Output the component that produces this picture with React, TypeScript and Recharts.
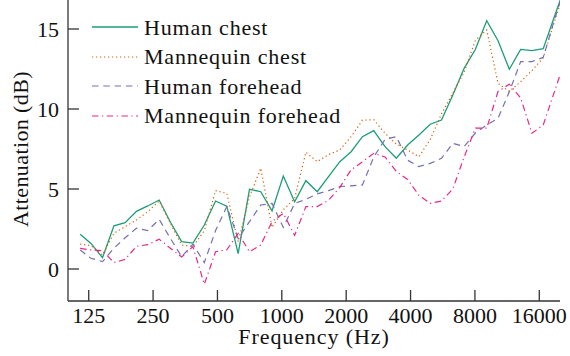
import { LineChart, Line, XAxis, YAxis, Legend, Label } from "recharts";

// band centre frequencies (Hz)
const frequencies = [
  114, 128, 145, 164, 185, 209, 236, 267, 301, 340, 384, 434, 490, 553, 625,
  706, 797, 900, 1016, 1148, 1296, 1464, 1654, 1868, 2109, 2382, 2691, 3039,
  3432, 3876, 4378, 4944, 5584, 6307, 7123, 8045, 9086, 10262, 11590, 13090,
  14784, 16697, 18858, 21298
];

// attenuation in dB
const humanChest = [
  2.17, 1.6, 0.71, 2.7, 2.9, 3.6, 3.94, 4.31, 2.94, 1.71, 1.62, 2.75, 4.25,
  3.93, 0.96, 4.98, 4.83, 3.63, 5.81, 4.2, 5.52, 4.83, 5.77, 6.71, 7.33, 8.27,
  8.65, 7.65, 6.92, 7.75, 8.38, 9.05, 9.31, 10.88, 12.54, 13.73, 15.52, 14.27,
  12.48, 13.73, 13.65, 13.77, 15.8, 17.8
];
const mannequinChest = [
  1.56, 1.46, 0.88, 2.23, 2.65, 3.06, 3.58, 4.25, 2.85, 1.5, 1.4, 2.4, 4.9,
  4.73, 1.7, 4.5, 6.3, 2.6, 3.7, 4.4, 7.3, 6.71, 7.15, 7.44, 8.27, 9.3, 9.33,
  8.48, 7.8, 7.44, 7.02, 8.1, 9.7, 11.0, 12.3, 14.3, 14.94, 11.6, 11.1, 11.7,
  12.4, 13.2, 15.5, 17.6
];
const humanForehead = [
  1.19, 0.67, 0.46, 1.3, 1.95, 2.55, 2.4, 3.1, 1.92, 0.77, 1.55, 0.4, 2.4, 3.9,
  1.9, 2.96, 4.0, 4.1, 2.6, 4.1, 4.35, 4.7, 4.9, 5.15, 5.2, 5.25, 7.0, 8.1,
  8.27, 6.8, 6.4, 6.6, 6.92, 7.85, 7.65, 8.5, 9.0, 9.42, 11.08, 12.96, 12.96,
  13.23, 15.6, 17.8
];
const mannequinForehead = [
  1.29, 1.19, 1.15, 0.4, 0.6, 1.42, 1.52, 1.86, 1.3, 0.75, 1.4, -0.95, 1.08,
  1.2, 2.23, 1.08, 1.5, 2.96, 3.48, 2.1, 3.9, 3.9, 4.3, 5.1, 6.2, 6.7, 7.23,
  7.0, 6.1, 5.6, 4.6, 4.1, 4.25, 5.0, 7.0, 8.8, 8.8, 11.1, 11.55, 10.7, 8.48,
  9.0, 11.1, 13.2
];

const xTicks = [125, 250, 500, 1000, 2000, 4000, 8000, 16000];
const yTicks = [0, 5, 10, 15];

const data = frequencies.map((f, i) => ({
  f,
  humanChest: humanChest[i],
  mannequinChest: mannequinChest[i],
  humanForehead: humanForehead[i],
  mannequinForehead: mannequinForehead[i]
}));

const series = [
  { key: "humanChest", name: "Human chest", color: "#1b9e77", dash: undefined, width: 1.3 },
  { key: "mannequinChest", name: "Mannequin chest", color: "#d95f02", dash: "1.2 2.8", width: 1.2 },
  { key: "humanForehead", name: "Human forehead", color: "#7570b3", dash: "6.5 4.8", width: 1.2 },
  { key: "mannequinForehead", name: "Mannequin forehead", color: "#e7298a", dash: "6.5 3.5 1.2 3.5", width: 1.2 }
];

const font = "'Liberation Serif', 'Times New Roman', serif";
const ink = "#111";
const axisColor = "#333";
const tickStyle = { fill: ink, fontSize: 22, fontFamily: font };
const titleStyle = { fill: ink, fontSize: 22, fontFamily: font, letterSpacing: 0.9 };

function LegendBox() {
  return (
    <div style={{ fontFamily: font, fontSize: 22, color: ink, letterSpacing: 0.8 }}>
      {series.map((s) => (
        <div
          key={s.key}
          style={{ display: "flex", alignItems: "center", height: 29.5 }}
        >
          <svg width={46} height={10}>
            <line
              x1={0}
              y1={5}
              x2={46}
              y2={5}
              stroke={s.color}
              strokeWidth={s.width}
              strokeDasharray={s.dash}
            />
          </svg>
          <span style={{ marginLeft: 6, lineHeight: "29.5px", whiteSpace: "nowrap" }}>
            {s.name}
          </span>
        </div>
      ))}
    </div>
  );
}

// rotated y title, centred on the plot height (chart coords: plot spans 10..314)
function YTitle() {
  const cx = 28;
  const cy = 162;
  return (
    <text
      x={cx}
      y={cy}
      transform={`rotate(-90 ${cx} ${cy})`}
      textAnchor="middle"
      style={{ ...titleStyle, letterSpacing: 0.4 }}
    >
      Attenuation (dB)
    </text>
  );
}

export default function App() {
  return (
    <div
      style={{
        position: "absolute",
        left: 0,
        top: 0,
        width: 570,
        height: 356,
        overflow: "hidden",
        background: "#fff"
      }}
    >
      <div style={{ position: "absolute", left: 0, top: -13 }}>
        <LineChart
          width={570}
          height={369}
          data={data}
          margin={{ top: 10, right: 10, bottom: 5, left: 18 }}
        >
          <XAxis
            dataKey="f"
            type="number"
            scale="log"
            domain={[100, 20000]}
            allowDataOverflow
            ticks={xTicks}
            interval={0}
            height={50}
            stroke={axisColor}
            strokeWidth={1.3}
            tickSize={-11}
            tickMargin={17}
            tick={tickStyle}
          >
            <Label
              value="Frequency (Hz)"
              position="insideBottom"
              offset={7}
              style={titleStyle}
            />
          </XAxis>
          <XAxis
            xAxisId="top"
            orientation="top"
            dataKey="f"
            type="number"
            scale="log"
            domain={[100, 20000]}
            allowDataOverflow
            ticks={xTicks}
            interval={0}
            height={0}
            stroke={axisColor}
            strokeWidth={1.3}
            tickSize={-11}
            tickFormatter={() => ""}
          />
          <YAxis
            type="number"
            domain={[-2, 17]}
            allowDataOverflow
            ticks={yTicks}
            interval={0}
            width={50}
            stroke={axisColor}
            strokeWidth={1.3}
            tickSize={-11}
            tickMargin={20}
            tick={tickStyle}
          >
            <Label content={YTitle} />
          </YAxis>
          <YAxis
            yAxisId="right"
            orientation="right"
            type="number"
            domain={[-2, 17]}
            allowDataOverflow
            ticks={yTicks}
            interval={0}
            width={0}
            stroke={axisColor}
            strokeWidth={1.3}
            tickSize={-11}
            tickFormatter={() => ""}
          />
          <Legend
            layout="vertical"
            align="center"
            verticalAlign="middle"
            content={() => <LegendBox />}
            wrapperStyle={{ left: 92, top: 25.5, width: 300 }}
          />
          {series.map((s) => (
            <Line
              key={s.key}
              dataKey={s.key}
              name={s.name}
              stroke={s.color}
              strokeWidth={s.width}
              strokeDasharray={s.dash}
              dot={false}
              activeDot={false}
              isAnimationActive={false}
            />
          ))}
        </LineChart>
      </div>
    </div>
  );
}
